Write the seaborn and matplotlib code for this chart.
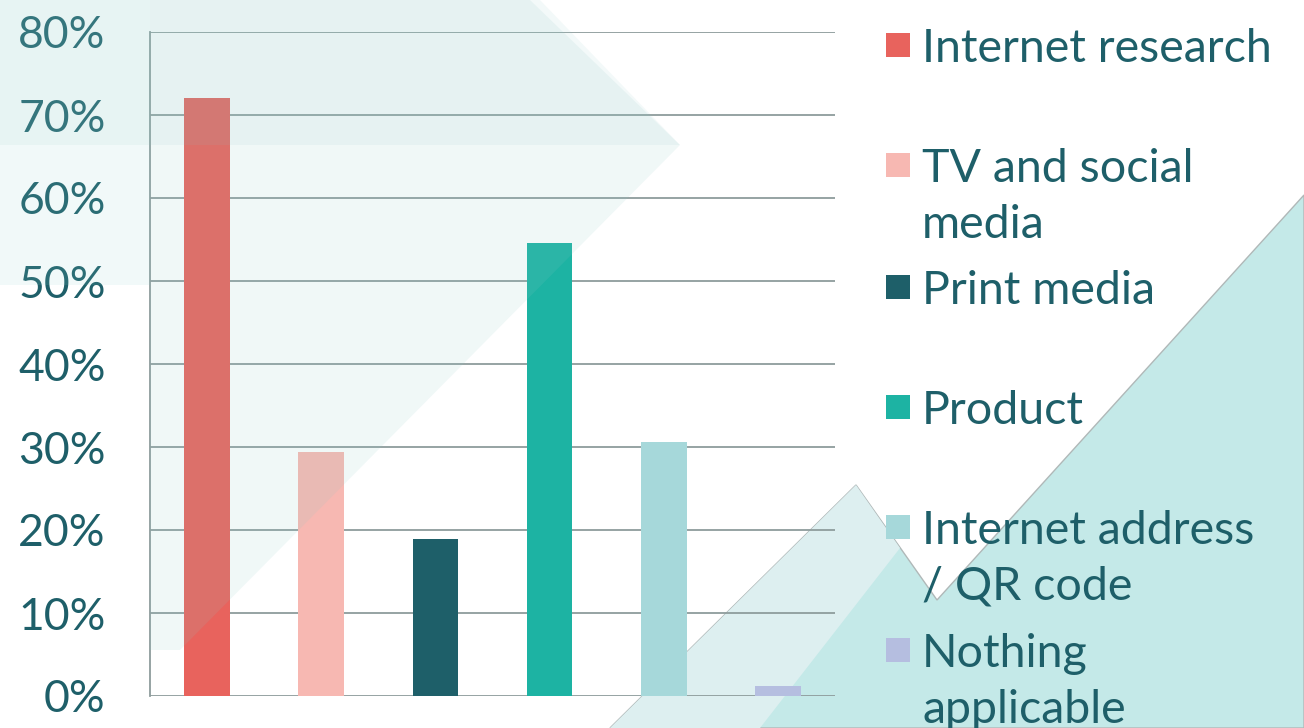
import matplotlib
matplotlib.use("Agg")
import matplotlib.pyplot as plt
from matplotlib.patches import Polygon, Rectangle
from matplotlib.ticker import PercentFormatter
import seaborn as sns
import pandas as pd

# data
categories = ['Internet research', 'TV and social\nmedia', 'Print media', 'Product',
              'Internet address\n/ QR code', 'Nothing\napplicable']
values = [72.0, 29.4, 18.9, 54.6, 30.6, 1.2]
colors = ['#E8635D', '#F7B8B2', '#1E5F69', '#1DB3A3', '#A6D8DA', '#B5BEE0']
yticks = [0, 10, 20, 30, 40, 50, 60, 70, 80]

text_color = '#1E5F69'
grid_color = '#8E9C9C'
W, H = 1304, 728

sns.set_theme(style='white')
plt.rcParams['font.family'] = ['Lato', 'DejaVu Sans']

fig = plt.figure(figsize=(W / 100, H / 100), dpi=100)
fig.patch.set_facecolor('white')


def px(points):
    # pixel coords of the reference -> figure fraction
    return [(x / W, 1 - y / H) for x, y in points]


# decorative background shapes (left ones sit over the bars, translucent)
deco = [
    ([(0, 0), (150, 0), (150, 285), (0, 285)], '#8FD3D0', 0.12, None, 1),
    ([(0, 0), (540, 0), (680, 145), (0, 145)], '#8FC9C6', 0.10, None, 1),
    ([(150, 0), (530, 0), (680, 145), (180, 650), (150, 650)], '#8FC9C6', 0.13, None, 1),
    ([(610, 728), (856, 485), (937, 600), (1304, 195), (1304, 728)], '#C4E9E8', 1.0, '#B0B8B8', -10),
    ([(610, 728), (856, 485), (900, 548), (760, 728)], '#DDEFF0', 1.0, None, -9),
]
for pts, fc, a, ec, z in deco:
    fig.patches.append(Polygon(px(pts), closed=True, transform=fig.transFigure,
                               facecolor=fc, alpha=a, edgecolor=ec or 'none',
                               linewidth=1.0, zorder=z))

ax = fig.add_axes([150 / W, 1 - 696 / H, (835 - 150) / W, (696 - 32) / H])
ax.patch.set_alpha(0)

df = pd.DataFrame({'category': categories, 'value': values})
sns.barplot(data=df, x='category', y='value', hue='category', palette=colors,
            width=0.4, saturation=1, legend=False, linewidth=0, ax=ax, zorder=3)

ax.set_ylim(0, 80)
ax.set_yticks(yticks)
ax.yaxis.set_major_formatter(PercentFormatter(decimals=0))
ax.set_xticks([])
ax.set_xlabel('')
ax.set_ylabel('')
ax.grid(axis='y', color=grid_color, linewidth=1.3, zorder=0)
ax.tick_params(axis='y', length=0, pad=32, labelsize=32, labelcolor=text_color)
for s in ['top', 'right', 'bottom']:
    ax.spines[s].set_visible(False)
ax.spines['left'].set_color(grid_color)
ax.spines['left'].set_linewidth(1.3)

# legend on the right, one swatch per category, swatch beside the first line
entry_y = [45, 165, 287, 407, 527, 650]
for lab, c, y in zip(categories, colors, entry_y):
    fig.patches.append(Rectangle((886 / W, 1 - (y + 12) / H), 24 / W, 24 / H,
                                 transform=fig.transFigure, facecolor=c,
                                 edgecolor='none', zorder=5))
    for i, line in enumerate(lab.split('\n')):
        fig.text(922 / W, 1 - (y + 17 + i * 56) / H, line, color=text_color,
                 fontsize=33.5, ha='left', va='baseline', zorder=6)

fig.savefig('out.png', dpi=100)
